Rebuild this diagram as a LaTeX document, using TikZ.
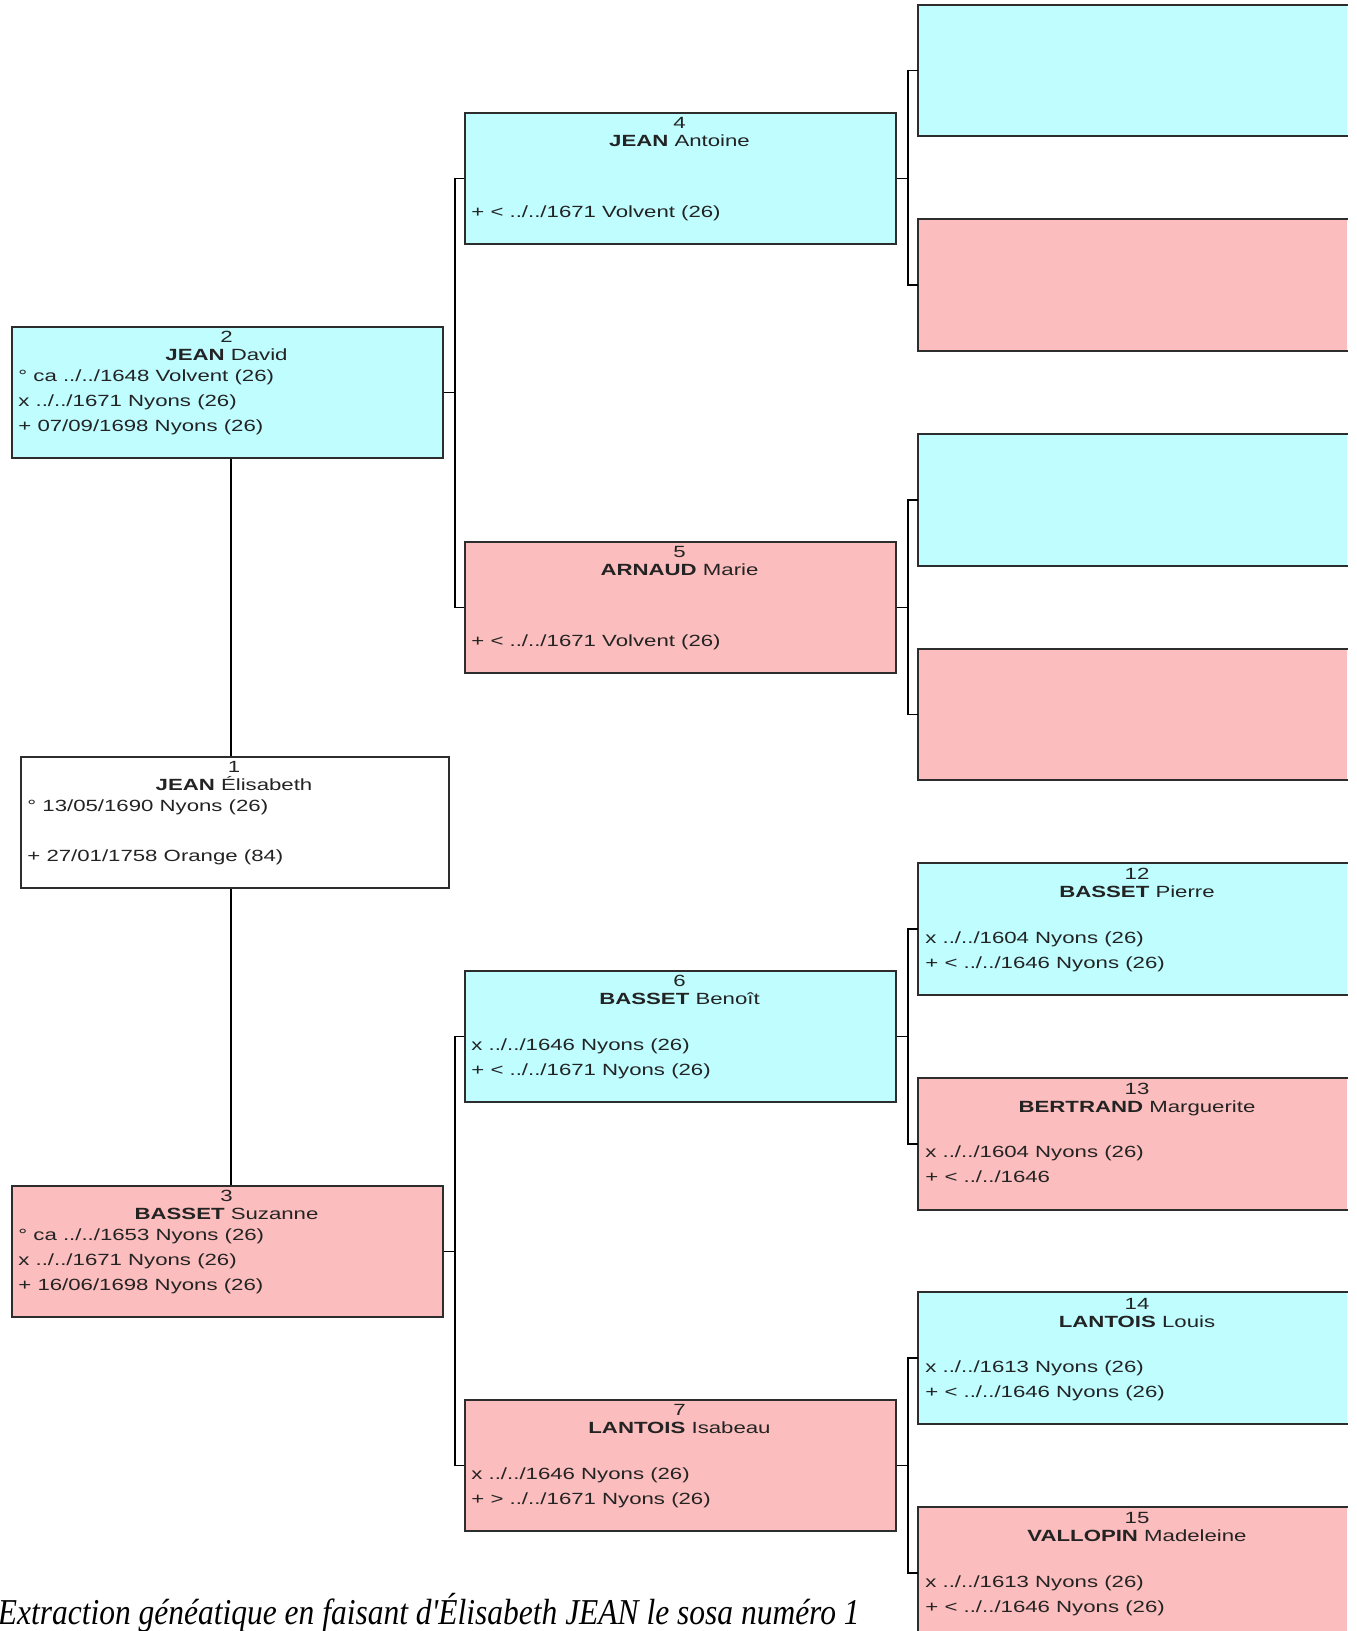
\documentclass[tikz,border=0pt]{standalone}
\usepackage{fontspec}
\setmainfont{Liberation Sans}
\newfontfamily\chartfont[FakeStretch=1.37]{Liberation Sans}
\newfontfamily\capfont[FakeStretch=0.865]{Liberation Serif}
\usetikzlibrary{calc}
\definecolor{mcyan}{RGB}{191,253,255}
\definecolor{mpink}{RGB}{251,189,189}
\definecolor{bline}{RGB}{45,45,45}
\definecolor{tcol}{RGB}{35,35,35}
\newcommand{\ptc}[5]{\node[txt,anchor=mid] (#1#2) at ([shift={(#3,#4)}]#1.north west) {#5};}
\newcommand{\ptl}[4]{\node[txt,anchor=mid west] (#1#2) at ([shift={(7,#3)}]#1.north west) {#4};}
\begin{document}
\begin{tikzpicture}[x=0.5pt,y=-0.5pt,
  box/.style={draw=bline, line width=1pt, inner sep=0pt, anchor=north west,
              minimum height=65.5pt, minimum width=215.5pt},
  malebox/.style={box, fill=mcyan},
  femalebox/.style={box, fill=mpink},
  openbox/.style={inner sep=0pt, anchor=north west, minimum height=65.5pt, minimum width=214.5pt},
  openmale/.style={openbox, fill=mcyan},
  openfemale/.style={openbox, fill=mpink},
  edge/.style={draw=bline, line width=1pt},
  conn/.style={draw=black, line width=0.9pt},
  txt/.style={font=\chartfont\fontsize{8.1}{9.5}\selectfont, text=tcol, inner sep=0pt}]
\useasboundingbox (0,0) rectangle (1356,1631);
\fill[white] (0,0) rectangle (1356,1631);
\clip (0,0) rectangle (1356,1631);

% generation 1
\node[malebox] (n2) at (11,326) {};
\node[box, fill=white, minimum width=214pt] (n1) at (20,756) {};
\node[femalebox] (n3) at (11,1185) {};
% generation 2
\node[malebox] (n4) at (464,112) {};
\node[femalebox] (n5) at (464,541) {};
\node[malebox] (n6) at (464,970) {};
\node[femalebox] (n7) at (464,1399) {};
% generation 3
\node[openmale] (g8) at (918,4.7) {};
\node[openfemale] (g9) at (918,219.3) {};
\node[openmale] (g10) at (918,433.9) {};
\node[openfemale] (g11) at (918,648.5) {};
\node[openmale] (g12) at (918,863.1) {};
\node[openfemale] (g13) at (918,1077.7) {};
\node[openmale] (g14) at (918,1292.3) {};
\node[openfemale] (g15) at (918,1506.9) {};
\foreach \g in {g8,g9,g10,g11,g12,g13,g14,g15}
  \draw[edge] (\g.north east) -- (\g.north west) -- (\g.south west) -- (\g.south east);

% connectors
\coordinate (j1) at (455,0);
\coordinate (j2) at (908,0);
\coordinate (vx) at (231,0);
\draw[conn] (n2.south -| vx) -- (n1.north -| vx);
\draw[conn] (n1.south -| vx) -- (n3.north -| vx);
\draw[conn] (n2.east) -- (n2.east -| j1);
\draw[conn] (n4.west) -- (n4.west -| j1) -- (n5.west -| j1) -- (n5.west);
\draw[conn] (n3.east) -- (n3.east -| j1);
\draw[conn] (n6.west) -- (n6.west -| j1) -- (n7.west -| j1) -- (n7.west);
\draw[conn] (n4.east) -- (n4.east -| j2);
\draw[conn] (g8.west) -- (g8.west -| j2) -- (g9.west -| j2) -- (g9.west);
\draw[conn] (n5.east) -- (n5.east -| j2);
\draw[conn] (g10.west) -- (g10.west -| j2) -- (g11.west -| j2) -- (g11.west);
\draw[conn] (n6.east) -- (n6.east -| j2);
\draw[conn] (g12.west) -- (g12.west -| j2) -- (g13.west -| j2) -- (g13.west);
\draw[conn] (n7.east) -- (n7.east -| j2);
\draw[conn] (g14.west) -- (g14.west -| j2) -- (g15.west -| j2) -- (g15.west);

% texts generation 1
\ptc{n2}{num}{215.5}{11.5}{2}
\ptc{n2}{nm}{215.5}{29.5}{\textbf{JEAN} David}
\ptl{n2}{a}{50}{° ca ../../1648 Volvent (26)}
\ptl{n2}{b}{75}{x ../../1671 Nyons (26)}
\ptl{n2}{c}{100}{+ 07/09/1698 Nyons (26)}

\ptc{n1}{num}{214}{11.5}{1}
\ptc{n1}{nm}{214}{29.5}{\textbf{JEAN} Élisabeth}
\ptl{n1}{a}{50}{° 13/05/1690 Nyons (26)}
\ptl{n1}{c}{100}{+ 27/01/1758 Orange (84)}

\ptc{n3}{num}{215.5}{11.5}{3}
\ptc{n3}{nm}{215.5}{29.5}{\textbf{BASSET} Suzanne}
\ptl{n3}{a}{50}{° ca ../../1653 Nyons (26)}
\ptl{n3}{b}{75}{x ../../1671 Nyons (26)}
\ptl{n3}{c}{100}{+ 16/06/1698 Nyons (26)}

% texts generation 2
\ptc{n4}{num}{215.5}{11.5}{4}
\ptc{n4}{nm}{215.5}{29.5}{\textbf{JEAN} Antoine}
\ptl{n4}{c}{100}{+ < ../../1671 Volvent (26)}

\ptc{n5}{num}{215.5}{11.5}{5}
\ptc{n5}{nm}{215.5}{29.5}{\textbf{ARNAUD} Marie}
\ptl{n5}{c}{100}{+ < ../../1671 Volvent (26)}

\ptc{n6}{num}{215.5}{11.5}{6}
\ptc{n6}{nm}{215.5}{29.5}{\textbf{BASSET} Benoît}
\ptl{n6}{b}{75}{x ../../1646 Nyons (26)}
\ptl{n6}{c}{100}{+ < ../../1671 Nyons (26)}

\ptc{n7}{num}{215.5}{11.5}{7}
\ptc{n7}{nm}{215.5}{29.5}{\textbf{LANTOIS} Isabeau}
\ptl{n7}{b}{75}{x ../../1646 Nyons (26)}
\ptl{n7}{c}{100}{+ > ../../1671 Nyons (26)}

% texts generation 3
\ptc{g12}{num}{219}{11.5}{12}
\ptc{g12}{nm}{219}{29.5}{\textbf{BASSET} Pierre}
\ptl{g12}{b}{75}{x ../../1604 Nyons (26)}
\ptl{g12}{c}{100}{+ < ../../1646 Nyons (26)}

\ptc{g13}{num}{219}{11.5}{13}
\ptc{g13}{nm}{219}{29.5}{\textbf{BERTRAND} Marguerite}
\ptl{g13}{b}{75}{x ../../1604 Nyons (26)}
\ptl{g13}{c}{100}{+ < ../../1646}

\ptc{g14}{num}{219}{11.5}{14}
\ptc{g14}{nm}{219}{29.5}{\textbf{LANTOIS} Louis}
\ptl{g14}{b}{75}{x ../../1613 Nyons (26)}
\ptl{g14}{c}{100}{+ < ../../1646 Nyons (26)}

\ptc{g15}{num}{219}{11.5}{15}
\ptc{g15}{nm}{219}{29.5}{\textbf{VALLOPIN} Madeleine}
\ptl{g15}{b}{75}{x ../../1613 Nyons (26)}
\ptl{g15}{c}{100}{+ < ../../1646 Nyons (26)}

% caption
\node[font=\capfont\itshape\fontsize{18.2}{21}\selectfont, anchor=base east, inner sep=0pt] (caption)
  at (860,1624) {Extraction généatique en faisant d'Élisabeth JEAN le sosa numéro 1};
\end{tikzpicture}
\end{document}
